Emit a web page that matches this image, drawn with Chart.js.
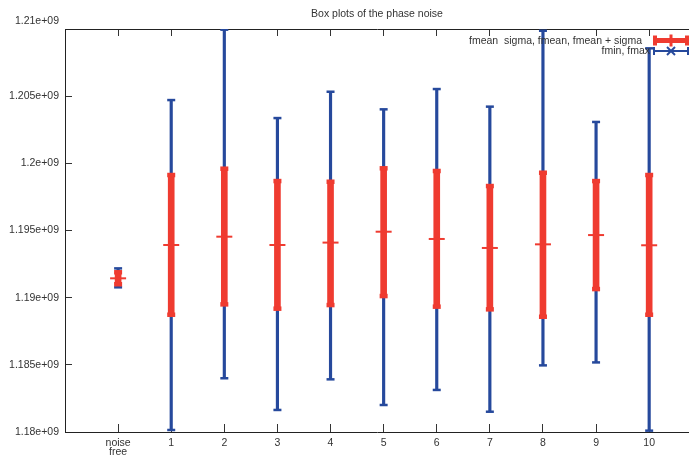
<!DOCTYPE html>
<html>
<head>
<meta charset="utf-8">
<script src="https://cdn.jsdelivr.net/npm/chart.js@4.4.1/dist/chart.umd.min.js"></script>
<style>
  html, body { margin: 0; padding: 0; background: #fff; overflow: hidden; }
  #wrap { width: 689px; height: 458px; position: relative; }
</style>
</head>
<body>
<div id="wrap"><canvas id="c"></canvas></div>
<script>
// Box plot data
const categories = ['noise free', '1', '2', '3', '4', '5', '6', '7', '8', '9', '10'];
const fMean = [1.19144e9, 1.19392e9, 1.19454e9, 1.19392e9, 1.19410e9, 1.19491e9, 1.19437e9, 1.19370e9, 1.19397e9, 1.19466e9, 1.19390e9];
const fMeanMinusSigma = [1.19100e9, 1.18873e9, 1.18950e9, 1.18918e9, 1.18945e9, 1.19012e9, 1.18933e9, 1.18913e9, 1.18858e9, 1.19064e9, 1.18873e9];
const fMeanPlusSigma = [1.19189e9, 1.19913e9, 1.19960e9, 1.19868e9, 1.19863e9, 1.19963e9, 1.19943e9, 1.19831e9, 1.19930e9, 1.19868e9, 1.19913e9];
const fMin = [1.19077e9, 1.18015e9, 1.18400e9, 1.18164e9, 1.18392e9, 1.18201e9, 1.18313e9, 1.18151e9, 1.18496e9, 1.18518e9, 1.18010e9];
const fMax = [1.19218e9, 1.20471e9, 1.20995e9, 1.20337e9, 1.20533e9, 1.20402e9, 1.20553e9, 1.20422e9, 1.20987e9, 1.20308e9, 1.20856e9];
const yTicks = [1.18e9, 1.185e9, 1.19e9, 1.195e9, 1.2e9, 1.205e9, 1.21e9];
const legendLabels = ['fmean  sigma, fmean, fmean + sigma', 'fmin, fmax'];
const titleText = 'Box plots of the phase noise';

const RED = '#ef3b30';
const BLUE = '#26499c';
const FONT = '"Liberation Sans", Arial, sans-serif';

const idxTicks = s => { s.ticks = categories.map((c, i) => ({ value: i })); };
const fmtE = v => (Math.round(v / 1e6) / 1000) + 'e+09';

// gnuplot-like legend with error bar samples
const legendSamples = {
    id: 'legendSamples',
    afterDraw(chart) {
        const { ctx, chartArea: a } = chart;
        const line = (x0, y0, x1, y1) => { ctx.beginPath(); ctx.moveTo(x0, y0); ctx.lineTo(x1, y1); ctx.stroke(); };
        ctx.save();
        ctx.font = '10.5px ' + FONT;
        ctx.fillStyle = '#333';
        ctx.textAlign = 'right';
        ctx.textBaseline = 'middle';
        ctx.fillText(legendLabels[0], a.right - 47, a.top + 12.5);
        ctx.fillText(legendLabels[1], a.right - 39, a.top + 22.5);

        const x0 = a.right - 36, x1 = a.right, xm = a.right - 18;
        // red: fmean +- sigma
        let y = a.top + 11.5;
        ctx.strokeStyle = RED;
        ctx.lineWidth = 5; line(x0, y, x1, y);
        ctx.lineWidth = 4; line(x0 + 2, y - 5, x0 + 2, y + 5); line(x1 - 2, y - 5, x1 - 2, y + 5);
        ctx.lineWidth = 3; line(xm, y - 6, xm, y + 6);
        // blue: fmin, fmax
        y = a.top + 22;
        ctx.strokeStyle = BLUE;
        ctx.lineWidth = 2; line(x0, y, x1, y);
        line(x0 + 1, y - 4, x0 + 1, y + 4); line(x1 - 1, y - 4, x1 - 1, y + 4);
        line(xm - 4, y - 4, xm + 4, y + 4); line(xm - 4, y + 4, xm + 4, y - 4);
        ctx.restore();
    }
};

const redCaps = [];
const blueCaps = [];
categories.forEach((c, i) => {
    redCaps.push({ x: i, y: fMeanMinusSigma[i] }, { x: i, y: fMeanPlusSigma[i] });
    blueCaps.push({ x: i, y: fMin[i] }, { x: i, y: fMax[i] });
});

new Chart(document.getElementById('c'), {
    type: 'bar',
    data: {
        datasets: [
            {
                type: 'scatter', label: 'fmean', order: 0,
                data: categories.map((c, i) => ({ x: i, y: fMean[i] })),
                pointStyle: 'line', pointRadius: 8, pointBorderWidth: 2,
                pointBorderColor: RED, pointBackgroundColor: RED
            },
            {
                type: 'scatter', label: 'sigma caps', order: 1,
                data: redCaps,
                pointStyle: 'line', pointRadius: 4, pointBorderWidth: 4.5,
                pointBorderColor: RED, pointBackgroundColor: RED
            },
            {
                type: 'bar', label: legendLabels[0], order: 2, grouped: false,
                data: categories.map((c, i) => ({ x: i, y: [fMeanMinusSigma[i], fMeanPlusSigma[i]] })),
                backgroundColor: RED, borderWidth: 0, barThickness: 6
            },
            {
                type: 'scatter', label: 'min/max caps', order: 3,
                data: blueCaps,
                pointStyle: 'line', pointRadius: 4, pointBorderWidth: 2.5,
                pointBorderColor: BLUE, pointBackgroundColor: BLUE
            },
            {
                type: 'bar', label: legendLabels[1], order: 4, grouped: false,
                data: categories.map((c, i) => ({ x: i, y: [fMin[i], fMax[i]] })),
                backgroundColor: BLUE, borderWidth: 0, barThickness: 2.5
            }
        ]
    },
    options: {
        responsive: true,
        maintainAspectRatio: false,
        animation: false,
        events: [],
        layout: { padding: 0, autoPadding: false },
        plugins: {
            legend: { display: false },
            tooltip: { enabled: false },
            title: {
                display: true,
                text: titleText,
                fullSize: false,
                color: '#333',
                padding: { top: 8, bottom: 0 },
                font: { family: FONT, size: 10.5, weight: 'normal', lineHeight: '12px' }
            }
        },
        scales: {
            x: {
                type: 'linear', position: 'bottom', min: -1, max: 10.75, offset: false,
                afterBuildTicks: idxTicks,
                afterFit: s => { s.height = 26; },
                border: { color: '#222', width: 1 },
                grid: { drawOnChartArea: false, drawTicks: true, tickLength: -8, color: '#333', offset: false },
                ticks: {
                    padding: 15, color: '#333', maxRotation: 0, autoSkip: false,
                    font: { family: FONT, size: 10.5, lineHeight: '9px' },
                    callback: v => {
                        const l = categories[v];
                        return l && l.indexOf(' ') > 0 ? l.split(' ') : l;
                    }
                }
            },
            x2: {
                type: 'linear', position: 'top', min: -1, max: 10.75, offset: false,
                afterBuildTicks: idxTicks,
                afterFit: s => { s.height = 9; },
                border: { color: '#222', width: 1 },
                grid: { drawOnChartArea: false, drawTicks: true, tickLength: -7, color: '#333', offset: false },
                ticks: { display: false }
            },
            y: {
                type: 'linear', min: 1.18e9, max: 1.21e9,
                afterBuildTicks: s => { s.ticks = yTicks.map(v => ({ value: v })); },
                afterFit: s => { s.width = 65; },
                border: { color: '#222', width: 1 },
                grid: { drawOnChartArea: false, drawTicks: true, tickLength: -7, color: '#333' },
                ticks: {
                    padding: 13, color: '#333',
                    font: { family: FONT, size: 10.5, lineHeight: '15px' },
                    // the top label sits a little above its tick in the reference
                    callback: v => v === yTicks[yTicks.length - 1] ? [fmtE(v), ''] : fmtE(v)
                }
            }
        }
    },
    plugins: [legendSamples]
});
</script>
</body>
</html>
